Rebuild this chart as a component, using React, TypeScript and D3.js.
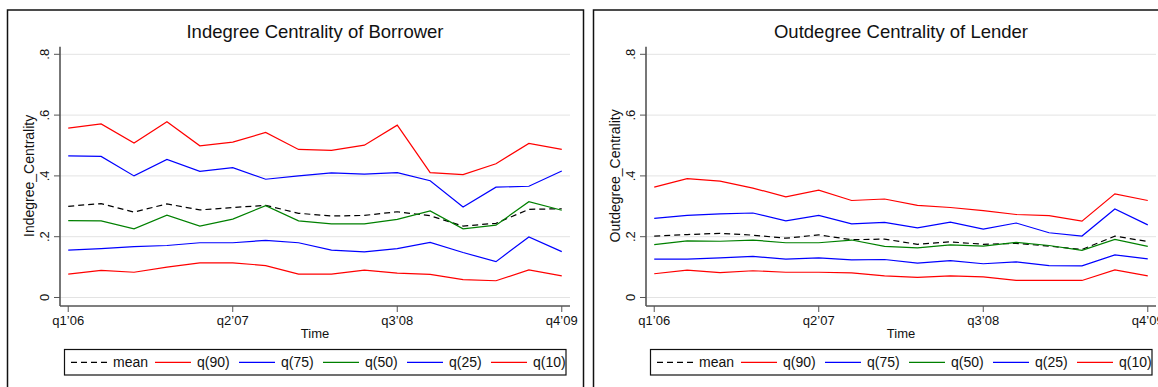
import { useEffect, useRef } from "react";
import * as d3 from "d3";

const quarters = [
  "q1’06", "q2’06", "q3’06", "q4’06",
  "q1’07", "q2’07", "q3’07", "q4’07",
  "q1’08", "q2’08", "q3’08", "q4’08",
  "q1’09", "q2’09", "q3’09", "q4’09",
];
const xTickIdx = [0, 5, 10, 15];
const yTicks = [0, 0.2, 0.4, 0.6, 0.8];

// Indegree centrality of borrower
const inMean = [0.300, 0.309, 0.281, 0.308, 0.288, 0.296, 0.303, 0.277, 0.268, 0.270, 0.282, 0.269, 0.235, 0.244, 0.290, 0.292];
const inQ90 = [0.557, 0.571, 0.508, 0.578, 0.499, 0.511, 0.543, 0.487, 0.484, 0.501, 0.567, 0.411, 0.404, 0.440, 0.507, 0.487];
const inQ75 = [0.466, 0.464, 0.400, 0.454, 0.415, 0.427, 0.389, 0.400, 0.410, 0.406, 0.411, 0.384, 0.298, 0.363, 0.366, 0.416];
const inQ50 = [0.253, 0.252, 0.226, 0.271, 0.235, 0.258, 0.302, 0.252, 0.242, 0.242, 0.257, 0.285, 0.226, 0.238, 0.315, 0.287];
const inQ25 = [0.156, 0.161, 0.167, 0.171, 0.180, 0.180, 0.188, 0.180, 0.156, 0.150, 0.161, 0.181, 0.148, 0.118, 0.199, 0.151];
const inQ10 = [0.077, 0.089, 0.083, 0.100, 0.114, 0.114, 0.105, 0.077, 0.077, 0.090, 0.080, 0.076, 0.059, 0.055, 0.091, 0.071];

// Outdegree centrality of lender
const outMean = [0.202, 0.207, 0.211, 0.205, 0.195, 0.206, 0.190, 0.192, 0.175, 0.183, 0.175, 0.178, 0.169, 0.158, 0.202, 0.184];
const outQ90 = [0.363, 0.391, 0.383, 0.360, 0.331, 0.353, 0.319, 0.324, 0.303, 0.296, 0.286, 0.273, 0.269, 0.251, 0.341, 0.319];
const outQ75 = [0.260, 0.270, 0.275, 0.278, 0.252, 0.270, 0.242, 0.247, 0.229, 0.248, 0.225, 0.245, 0.213, 0.202, 0.291, 0.239];
const outQ50 = [0.174, 0.186, 0.185, 0.189, 0.180, 0.180, 0.189, 0.168, 0.163, 0.173, 0.169, 0.181, 0.171, 0.155, 0.191, 0.168];
const outQ25 = [0.126, 0.126, 0.130, 0.135, 0.126, 0.130, 0.124, 0.125, 0.113, 0.121, 0.111, 0.117, 0.105, 0.104, 0.140, 0.127];
const outQ10 = [0.078, 0.090, 0.082, 0.088, 0.083, 0.083, 0.081, 0.071, 0.066, 0.071, 0.068, 0.056, 0.056, 0.056, 0.091, 0.071];

const seriesNames = ["mean", "q(90)", "q(75)", "q(50)", "q(25)", "q(10)"];
const seriesColors = ["#000000", "#ff0000", "#0000ff", "#008000", "#0000ff", "#ff0000"];

const FONT = "'Liberation Sans', Arial, Helvetica, sans-serif";

function drawPanel(root, offsetX, title, yTitle, series) {
  const g = root.append("g").attr("transform", `translate(${offsetX},0)`);
  const left = 60, right = 570, top = 46.7, bottom = 306;

  // outer frame
  g.append("rect")
    .attr("x", 7.5).attr("y", 10).attr("width", 576).attr("height", 420)
    .attr("fill", "white").attr("stroke", "#111").attr("stroke-width", 1.5);

  const x = d3.scaleLinear().domain([-0.25, 15.25]).range([left, right]);
  const y = d3.scaleLinear().domain([-0.028, 0.825]).range([bottom, top]);

  // gridlines
  g.selectAll(".grid")
    .data(yTicks)
    .join("line")
    .attr("x1", left).attr("x2", right)
    .attr("y1", (d) => y(d)).attr("y2", (d) => y(d))
    .attr("stroke", "#e3e3e3").attr("stroke-width", 1);

  // title
  g.append("text")
    .attr("x", (left + right) / 2).attr("y", 38)
    .attr("text-anchor", "middle")
    .attr("font-family", FONT).attr("font-size", 18.5)
    .attr("fill", "#111")
    .text(title);

  // y axis
  g.append("line")
    .attr("x1", left).attr("x2", left).attr("y1", top).attr("y2", bottom)
    .attr("stroke", "#555").attr("stroke-width", 1.6);
  g.selectAll(".ytick")
    .data(yTicks)
    .join("line")
    .attr("x1", left - 6).attr("x2", left)
    .attr("y1", (d) => y(d)).attr("y2", (d) => y(d))
    .attr("stroke", "#555").attr("stroke-width", 1);
  g.selectAll(".ylab")
    .data(yTicks)
    .join("text")
    .attr("transform", (d) => `translate(${left - 11},${y(d)}) rotate(-90)`)
    .attr("text-anchor", "middle")
    .attr("font-family", FONT).attr("font-size", 13)
    .attr("fill", "#111")
    .text((d) => (d === 0 ? "0" : d3.format(".1f")(d).replace(/^0/, "")));
  g.append("text")
    .attr("transform", `translate(33.5,${(y(0) + y(0.8)) / 2}) rotate(-90)`)
    .attr("text-anchor", "middle")
    .attr("font-family", FONT).attr("font-size", 14)
    .attr("fill", "#111")
    .text(yTitle);

  // x axis
  g.append("line")
    .attr("x1", left).attr("x2", right).attr("y1", bottom).attr("y2", bottom)
    .attr("stroke", "#555").attr("stroke-width", 1.6);
  g.selectAll(".xtick")
    .data(xTickIdx)
    .join("line")
    .attr("x1", (d) => x(d)).attr("x2", (d) => x(d))
    .attr("y1", bottom).attr("y2", bottom + 6)
    .attr("stroke", "#555").attr("stroke-width", 1);
  g.selectAll(".xlab")
    .data(xTickIdx)
    .join("text")
    .attr("x", (d) => x(d)).attr("y", 325)
    .attr("text-anchor", "middle")
    .attr("font-family", FONT).attr("font-size", 13)
    .attr("fill", "#111")
    .text((d) => quarters[d]);
  g.append("text")
    .attr("x", (left + right) / 2).attr("y", 338)
    .attr("text-anchor", "middle")
    .attr("font-family", FONT).attr("font-size", 13)
    .attr("fill", "#111")
    .text("Time");

  // lines
  const line = d3.line().x((d, i) => x(i)).y((d) => y(d));
  series.forEach((vals, k) => {
    g.append("path")
      .attr("d", line(vals))
      .attr("fill", "none")
      .attr("stroke", seriesColors[k])
      .attr("stroke-width", 1.2)
      .attr("stroke-dasharray", k === 0 ? "6,4" : null);
  });

  // legend
  const lg = g.append("g");
  lg.append("rect")
    .attr("x", 64.5).attr("y", 349.5).attr("width", 501.5).attr("height", 25.5)
    .attr("fill", "white").attr("stroke", "#111").attr("stroke-width", 1.2);
  seriesNames.forEach((name, k) => {
    const lx = 71 + k * 84;
    lg.append("line")
      .attr("x1", lx).attr("x2", lx + 36).attr("y1", 362.3).attr("y2", 362.3)
      .attr("stroke", seriesColors[k]).attr("stroke-width", 1.2)
      .attr("stroke-dasharray", k === 0 ? "6,4" : null);
    lg.append("text")
      .attr("x", lx + 42).attr("y", 367.3)
      .attr("font-family", FONT).attr("font-size", 14)
      .attr("fill", "#111")
      .text(name);
  });
}

export default function App() {
  const svgRef = useRef(null);
  useEffect(() => {
    const svg = d3.select(svgRef.current);
    svg.selectAll("*").remove();
    svg.append("rect").attr("width", 1158).attr("height", 387).attr("fill", "white");
    drawPanel(svg, 0, "Indegree Centrality of Borrower", "Indegree_Centrality",
      [inMean, inQ90, inQ75, inQ50, inQ25, inQ10]);
    drawPanel(svg, 586, "Outdegree Centrality of Lender", "Outdegree_Centrality",
      [outMean, outQ90, outQ75, outQ50, outQ25, outQ10]);
  }, []);

  return (
    <svg
      ref={svgRef}
      width={1158}
      height={387}
      style={{ position: "absolute", left: 0, top: 0, display: "block" }}
    ></svg>
  );
}
